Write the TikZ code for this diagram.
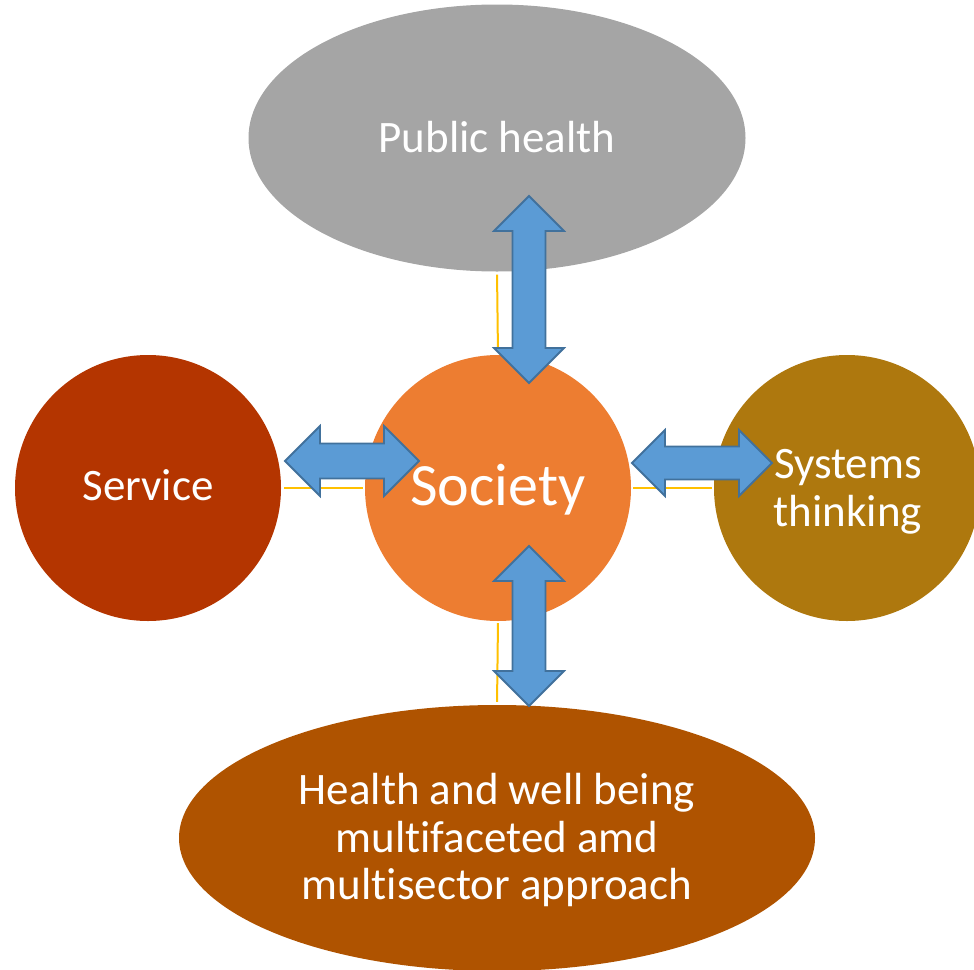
\documentclass[tikz,border=0pt]{standalone}
\usepackage{fontspec}
\setmainfont{Carlito}[Ligatures=NoCommon]
\usetikzlibrary{shapes.geometric,calc}
\definecolor{phgray}{HTML}{A5A5A5}
\definecolor{servred}{HTML}{B43500}
\definecolor{socorange}{HTML}{ED7D31}
\definecolor{sysgold}{HTML}{AE780E}
\definecolor{hwbrown}{HTML}{AF5300}
\definecolor{arrowfill}{HTML}{5B9BD5}
\definecolor{arrowline}{HTML}{41719C}
\definecolor{linkyellow}{HTML}{FFC000}
\newcommand\hdarrow[4]{%
\draw[blockarrow] (#1) -- ($(#1)+(#3,-#3)$) -- ($(#1)+(#3,-#4)$) -- ($(#2)+(-#3,-#4)$) -- ($(#2)+(-#3,-#3)$) -- (#2) -- ($(#2)+(-#3,#3)$) -- ($(#2)+(-#3,#4)$) -- ($(#1)+(#3,#4)$) -- ($(#1)+(#3,#3)$) -- cycle;}
\newcommand\vdarrow[4]{%
\draw[blockarrow] (#1) -- ($(#1)+(#3,#3)$) -- ($(#1)+(#4,#3)$) -- ($(#2)+(#4,-#3)$) -- ($(#2)+(#3,-#3)$) -- (#2) -- ($(#2)+(-#3,-#3)$) -- ($(#2)+(-#4,-#3)$) -- ($(#1)+(-#4,#3)$) -- ($(#1)+(-#3,#3)$) -- cycle;}
\begin{document}
\begin{tikzpicture}[x=1pt,y=-1pt,
  blob/.style={circle,inner sep=0pt,minimum size=266pt,draw=none},
  oval/.style={ellipse,inner sep=0pt,draw=none},
  lbl/.style={text=white,inner sep=0pt,align=center,font=\fontsize{45}{47.5}\selectfont},
  link/.style={draw=linkyellow,line width=2pt},
  blockarrow/.style={fill=arrowfill,draw=arrowline,line width=1.8pt,line join=miter}]
\useasboundingbox (0,0) rectangle (974,969);
% shapes
\node[oval,fill=phgray,minimum width=497pt,minimum height=267pt] (ph) at (497,138) {};
\node[oval,fill=hwbrown,minimum width=636pt,minimum height=266pt] (hw) at (497,838) {};
\node[blob,fill=servred] (serv) at (148,488) {};
\node[blob,fill=socorange] (soc) at (498,488) {};
\node[blob,fill=sysgold] (sys) at (847,488) {};
% yellow links
\draw[link,shorten <=3pt,shorten >=2pt] (serv.east) -- (soc.west);
\draw[link,shorten <=2pt,shorten >=2pt] (soc.east) -- (sys.west);
\draw[link,shorten <=3pt,shorten >=7pt] (ph.south) -- (soc.north);
\draw[link,shorten <=2pt,shorten >=3pt] (soc.south) -- (hw.north);
% labels
\node[lbl,anchor=base] (tph) at (497,152) {Public health};
\node[lbl,anchor=base] (tserv) at (148,500) {Service};
\node[lbl,anchor=base,font=\fontsize{60}{64}\selectfont] (tsoc) at (498,505) {Society};
\node[lbl] (tsys) at (848,492) {Systems\\thinking};
\node[lbl] (thw) at (497,840) {Health and well being\\multifaceted amd\\multisector approach};
% block arrows
\coordinate (l1) at (285,461); \coordinate (l2) at (419,461);
\coordinate (r1) at (632,463); \coordinate (r2) at (772,463);
\coordinate (t1) at (529,196); \coordinate (t2) at (529,383);
\coordinate (b1) at (529,546); \coordinate (b2) at (529,706);
\hdarrow{l1}{l2}{35}{17.5}
\hdarrow{r1}{r2}{33}{16.5}
\vdarrow{t1}{t2}{35}{16.5}
\vdarrow{b1}{b2}{35}{16.5}
\end{tikzpicture}
\end{document}
